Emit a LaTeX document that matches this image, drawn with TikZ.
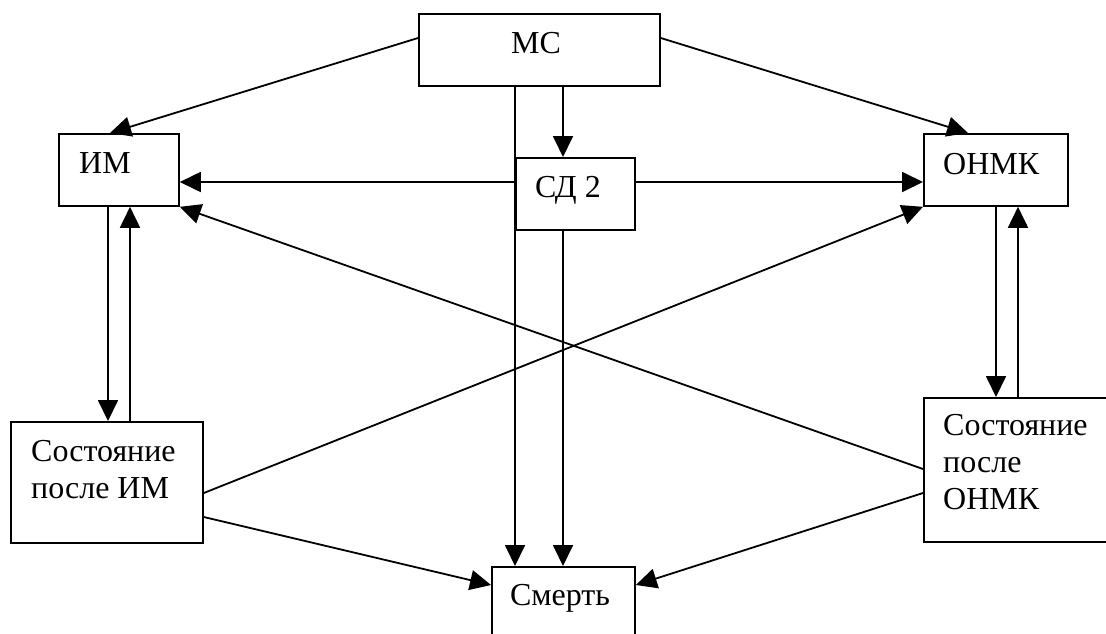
\documentclass[tikz,border=0pt]{standalone}
\usepackage{fontspec}
\setmainfont{Liberation Serif}
\usetikzlibrary{arrows.meta,calc}
\begin{document}
\begin{tikzpicture}[x=1pt,y=-1pt,
  box/.style={draw,line width=1.8pt,rectangle,inner sep=0pt,anchor=north west},
  txt/.style={inner sep=0pt,font=\fontsize{32}{37}\selectfont,align=left},
  arr/.style={line width=1.8pt,-{Triangle[length=21pt,width=20pt]}}]
\useasboundingbox (0,0) rectangle (1106,633);
\clip (0,0) rectangle (1106,633);
\fill[white] (0,0) rectangle (1106,633);
% boxes
\node[box,minimum width=241pt,minimum height=72pt] (ms) at (418,13) {};
\node[box,minimum width=120pt,minimum height=72pt] (im) at (58,133) {};
\node[box,minimum width=119pt,minimum height=72pt] (sd) at (515,157) {};
\node[box,minimum width=144pt,minimum height=72pt] (onmk) at (923,133) {};
\node[box,minimum width=192pt,minimum height=121pt] (spim) at (10,421) {};
\node[box,minimum width=210pt,minimum height=144pt] (sponmk) at (923,397) {};
\node[box,minimum width=143pt,minimum height=80pt] (death) at (491,566) {};
% texts
\node[txt,anchor=base] (tms) at (536,53) {МС};
\node[txt,anchor=base west] (tim) at (79,173) {ИМ};
\node[txt,anchor=base west] (tsd) at (535,197) {СД 2};
\node[txt,anchor=base west] (tonmk) at (943,174) {ОНМК};
\node[txt,anchor=north west] (tspim) at (31,440) {Состояние\\после ИМ};
\node[txt,anchor=north west] (tsponmk) at (943,414) {Состояние\\после\\ОНМК};
\node[txt,anchor=base] (tdeath) at (560,605) {Смерть};
% connectors
\draw[arr] ($(ms.north west)+(0,25)$) -- ($(im.north west)+(52,0)$);
\draw[arr] ($(ms.north east)+(0,25)$) -- ($(onmk.north west)+(45,0)$);
\draw[arr] ($(ms.south west)+(145,0)$) -- ($(sd.north west)+(48,0)$);
\draw[arr] ($(ms.south west)+(97,0)$) -- ($(death.north west)+(24,0)$);
\draw[arr] ($(sd.north west)+(0,25)$) -- ($(im.north east)+(0,49)$);
\draw[arr] ($(sd.north east)+(0,25)$) -- ($(onmk.north west)+(0,49)$);
\draw[arr] ($(sd.south west)+(48,0)$) -- ($(death.north west)+(72,0)$);
\draw[arr] ($(im.south west)+(50,0)$) -- ($(spim.north west)+(98,0)$);
\draw[arr] ($(spim.north west)+(120,0)$) -- ($(im.south west)+(72,0)$);
\draw[arr] ($(spim.north east)+(0,72)$) -- (onmk.south west);
\draw[arr] ($(spim.north east)+(0,96)$) -- ($(death.north west)+(0,19)$);
\draw[arr] ($(sponmk.north west)+(0,72)$) -- (im.south east);
\draw[arr] ($(sponmk.north west)+(0,96)$) -- ($(death.north east)+(0,19)$);
\draw[arr] ($(onmk.south west)+(73,0)$) -- ($(sponmk.north west)+(73,0)$);
\draw[arr] ($(sponmk.north west)+(95,0)$) -- ($(onmk.south west)+(95,0)$);
\end{tikzpicture}
\end{document}
